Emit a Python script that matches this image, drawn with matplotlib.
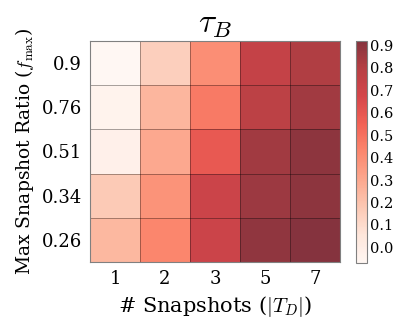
import matplotlib
matplotlib.use("Agg")
import matplotlib.pyplot as plt
import numpy as np

# number of snapshots (columns) and max snapshot ratio (rows, top to bottom)
snapshots = ["1", "2", "3", "5", "7"]
ratios = ["0.9", "0.76", "0.51", "0.34", "0.26"]

tau_b = np.array([
    [-0.07, 0.15, 0.40, 0.74, 0.81],
    [-0.04, 0.25, 0.47, 0.77, 0.85],
    [-0.02, 0.30, 0.59, 0.85, 0.90],
    [0.17, 0.38, 0.71, 0.86, 0.90],
    [0.24, 0.43, 0.71, 0.89, 0.92],
])
cbar_ticks = [0.0, 0.1, 0.2, 0.3, 0.4, 0.5, 0.6, 0.7, 0.8, 0.9]

plt.rcParams['font.family'] = 'DejaVu Serif'
plt.rcParams['mathtext.fontset'] = 'cm'

fig = plt.figure(figsize=(3.98, 3.2), dpi=100)
ax = fig.add_axes([90 / 398, 1 - 262 / 320, 250 / 398, 221 / 320])
cax = fig.add_axes([356 / 398, 1 - 263 / 320, 11 / 398, 222 / 320])

im = ax.pcolormesh(tau_b, cmap="Reds", alpha=0.8, vmin=tau_b.min(), vmax=tau_b.max())
# thin translucent cell borders
for k in range(1, len(snapshots)):
    ax.axvline(k, color="black", alpha=0.35, linewidth=0.7)
for k in range(1, len(ratios)):
    ax.axhline(k, color="black", alpha=0.35, linewidth=0.7)

ax.set_xlim(0, len(snapshots))
ax.set_ylim(len(ratios), 0)
ax.set_xticks(np.arange(len(snapshots)) + 0.5)
ax.set_xticklabels(snapshots, fontsize=13)
ax.set_yticks(np.arange(len(ratios)) + 0.5)
ax.set_yticklabels(ratios, fontsize=13)
ax.tick_params(length=0, pad=6)
for s in ax.spines.values():
    s.set_color("gray")
    s.set_linewidth(0.8)

ax.set_xlabel(r"# Snapshots ($|T_D|$)", fontsize=15)
ax.set_ylabel(r"Max Snapshot Ratio ($f_{\rm max}$)", fontsize=13.5)
ax.set_title(r"$\tau_B$", fontsize=24, pad=6)

cb = fig.colorbar(im, cax=cax, ticks=cbar_ticks)
cb.ax.tick_params(labelsize=10.5, length=0, pad=2)
cb.outline.set_edgecolor("gray")
cb.outline.set_linewidth(0.8)

fig.savefig("out.png", dpi=100)
